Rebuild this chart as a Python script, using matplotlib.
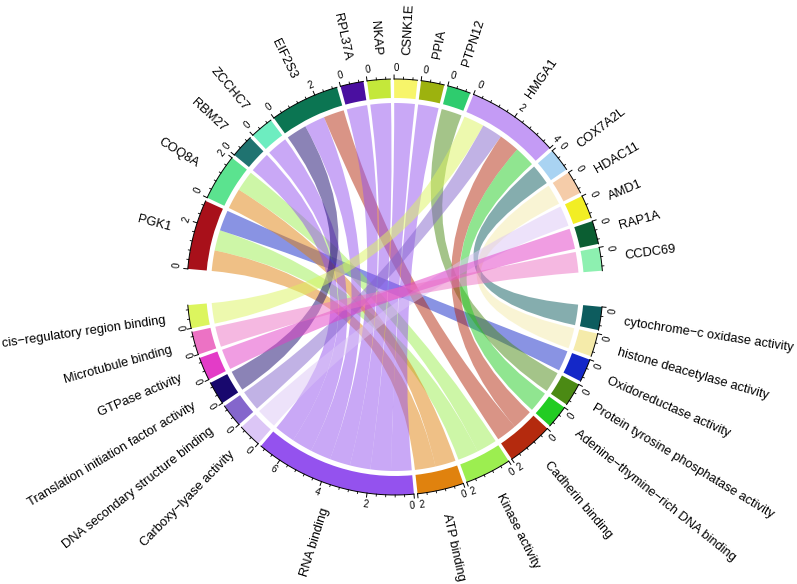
import numpy as np
import matplotlib
matplotlib.use("Agg")
import matplotlib.pyplot as plt
from matplotlib.path import Path
from matplotlib.patches import PathPatch, Wedge

plt.rcParams["font.family"] = ["Liberation Sans", "DejaVu Sans"]

# sectors: genes (top half) and GO terms (bottom half), clockwise order
genes = ["PGK1", "COQ8A", "RBM27", "ZCCHC7", "EIF2S3", "RPL37A", "NKAP", "CSNK1E",
         "PPIA", "PTPN12", "HMGA1", "COX7A2L", "HDAC11", "AMD1", "RAP1A", "CCDC69"]
gene_colors = ["#A8101A", "#5BE38F", "#1F7370", "#6DEDC0", "#0B7552", "#4A0FA0",
               "#C4E83A", "#F7F56A", "#9DB20E", "#2ECC6E", "#C49BF5", "#A9D3F2",
               "#F5CCA9", "#F2EE24", "#0B5E32", "#8DF0B0"]

terms = ["cytochrome−c oxidase activity", "histone deacetylase activity",
         "Oxidoreductase activity", "Protein tyrosine phosphatase activity",
         "Adenine−thymine−rich DNA binding", "Cadherin binding", "Kinase activity",
         "ATP binding", "RNA binding", "Carboxy−lyase activity",
         "DNA secondary structure binding", "Translation initiation factor activity",
         "GTPase activity", "Microtubule binding", "cis−regulatory region binding"]
term_colors = ["#0D5C5E", "#F5EBAA", "#1428C8", "#4B8A14", "#22CC22", "#B42A0E",
               "#9CEE50", "#E0820E", "#9452EE", "#DCC6F6", "#8466CC", "#18086E",
               "#E33CC7", "#EC72C4", "#DCF55E"]

# gene -> GO term links
link_from = ["PGK1", "PGK1", "PGK1", "COQ8A", "COQ8A", "RBM27", "ZCCHC7",
             "EIF2S3", "EIF2S3", "EIF2S3", "RPL37A", "NKAP", "CSNK1E", "PPIA",
             "PTPN12", "HMGA1", "HMGA1", "HMGA1", "HMGA1", "COX7A2L", "HDAC11",
             "AMD1", "RAP1A", "CCDC69"]
link_to = ["ATP binding", "Kinase activity", "Oxidoreductase activity",
           "ATP binding", "Kinase activity", "RNA binding", "RNA binding",
           "Translation initiation factor activity", "RNA binding", "Cadherin binding",
           "RNA binding", "RNA binding", "RNA binding", "RNA binding",
           "Protein tyrosine phosphatase activity", "cis−regulatory region binding",
           "DNA secondary structure binding", "Cadherin binding",
           "Adenine−thymine−rich DNA binding", "cytochrome−c oxidase activity",
           "histone deacetylase activity", "Carboxy−lyase activity",
           "GTPase activity", "Microtubule binding"]
link_value = [1, 1, 1, 1, 1, 1, 1, 1, 1, 1, 1, 1, 1, 1, 1, 1, 1, 1, 1, 1, 1, 1, 1, 1]

# layout
cx, cy = 395, 287
r_out, r_in, r_link = 208, 189, 184
start_deg, small_gap, big_gap = 185.0, 1.0, 10.0

sectors = genes + terms
colors = dict(zip(sectors, gene_colors + term_colors))
width = {s: 0.0 for s in sectors}
for f, t, v in zip(link_from, link_to, link_value):
    width[f] += v
    width[t] += v
total = sum(width.values())
n_small = len(sectors) - 2
unit = (360 - 2 * big_gap - n_small * small_gap) / total

sec_start = {}
a = start_deg
for s in sectors:
    sec_start[s] = a
    a += width[s] * unit
    a += big_gap if s in (genes[-1], terms[-1]) else small_gap


def mid(s):
    return sec_start[s] + width[s] * unit / 2


def pt(r, th):
    t = np.deg2rad(th)
    return cx + r * np.cos(t), cy + r * np.sin(t)


# place link ends in each sector, ordered so ribbons do not twist
ends = {}
for s in sectors:
    idx = [i for i in range(len(link_from)) if s in (link_from[i], link_to[i])]
    other = [link_to[i] if link_from[i] == s else link_from[i] for i in idx]
    dist = [(mid(o) - sec_start[s]) % 360 for o in other]
    order = [idx[k] for k in np.argsort(dist)[::-1]]
    pos = sec_start[s]
    for i in order:
        ends[(s, i)] = (pos, pos + link_value[i] * unit)
        pos += link_value[i] * unit

fig = plt.figure(figsize=(7.97, 5.84), dpi=100)
ax = fig.add_axes([0, 0, 1, 1])
ax.set_xlim(0, 797)
ax.set_ylim(584, 0)
ax.axis("off")

# sector track
for s in sectors:
    ax.add_patch(Wedge((cx, cy), r_out, sec_start[s], sec_start[s] + width[s] * unit,
                       width=r_out - r_in, facecolor=colors[s], edgecolor="none"))


def arc(r, t1, t2, n=30):
    th = np.linspace(t1, t2, n)
    return [pt(r, t) for t in th]


# links
for i in range(len(link_from)):
    a1, a2 = ends[(link_from[i], i)]
    b1, b2 = ends[(link_to[i], i)]
    verts, codes = [], []
    pa = arc(r_link, a1, a2)
    verts += pa
    codes += [Path.MOVETO] + [Path.LINETO] * (len(pa) - 1)
    verts += [(cx, cy), pt(r_link, b1)]
    codes += [Path.CURVE3, Path.CURVE3]
    pb = arc(r_link, b1, b2)[1:]
    verts += pb
    codes += [Path.LINETO] * len(pb)
    verts += [(cx, cy), pt(r_link, a1)]
    codes += [Path.CURVE3, Path.CURVE3]
    verts.append(pt(r_link, a1))
    codes.append(Path.CLOSEPOLY)
    ax.add_patch(PathPatch(Path(verts, codes), facecolor=colors[link_to[i]],
                           alpha=0.5, edgecolor="none"))

# axes on sectors
for s in sectors:
    t0, w = sec_start[s], width[s]
    line = np.array(arc(r_out, t0, t0 + w * unit))
    ax.plot(line[:, 0], line[:, 1], color="black", lw=0.7)
    for m in np.arange(0, w + 1e-9, 2):
        th = t0 + m * unit
        p1, p2 = pt(r_out, th), pt(r_out + 4, th)
        ax.plot([p1[0], p2[0]], [p1[1], p2[1]], color="black", lw=0.7)
        rot = (90 - th + 90) % 180 - 90
        cw_dir = (-th - 90) % 360
        reading_cw = abs(((rot - cw_dir + 180) % 360) - 180) < 90
        if m == 0:
            ha = "left" if reading_cw else "right"
        elif abs(m - w) < 1e-9:
            ha = "right" if reading_cw else "left"
        else:
            ha = "center"
        x, y = pt(r_out + 11, th)
        ax.text(x, y, f"{int(m)}", fontsize=7, rotation=rot, rotation_mode="anchor",
                ha=ha, va="center")
        for k in range(1, 5):
            mm = m + k * 0.4
            if mm < w - 1e-9:
                th2 = t0 + mm * unit
                p1, p2 = pt(r_out, th2), pt(r_out + 2, th2)
                ax.plot([p1[0], p2[0]], [p1[1], p2[1]], color="black", lw=0.6)

# sector names
for s in sectors:
    th = mid(s)
    x, y = pt(232, th)
    rot = -th
    if np.cos(np.deg2rad(th)) < 0:
        rot += 180
        ha = "right"
    else:
        ha = "left"
    ax.text(x, y, s, fontsize=9.3, rotation=rot, rotation_mode="anchor",
            ha=ha, va="center")

fig.savefig("out.png", dpi=100)
